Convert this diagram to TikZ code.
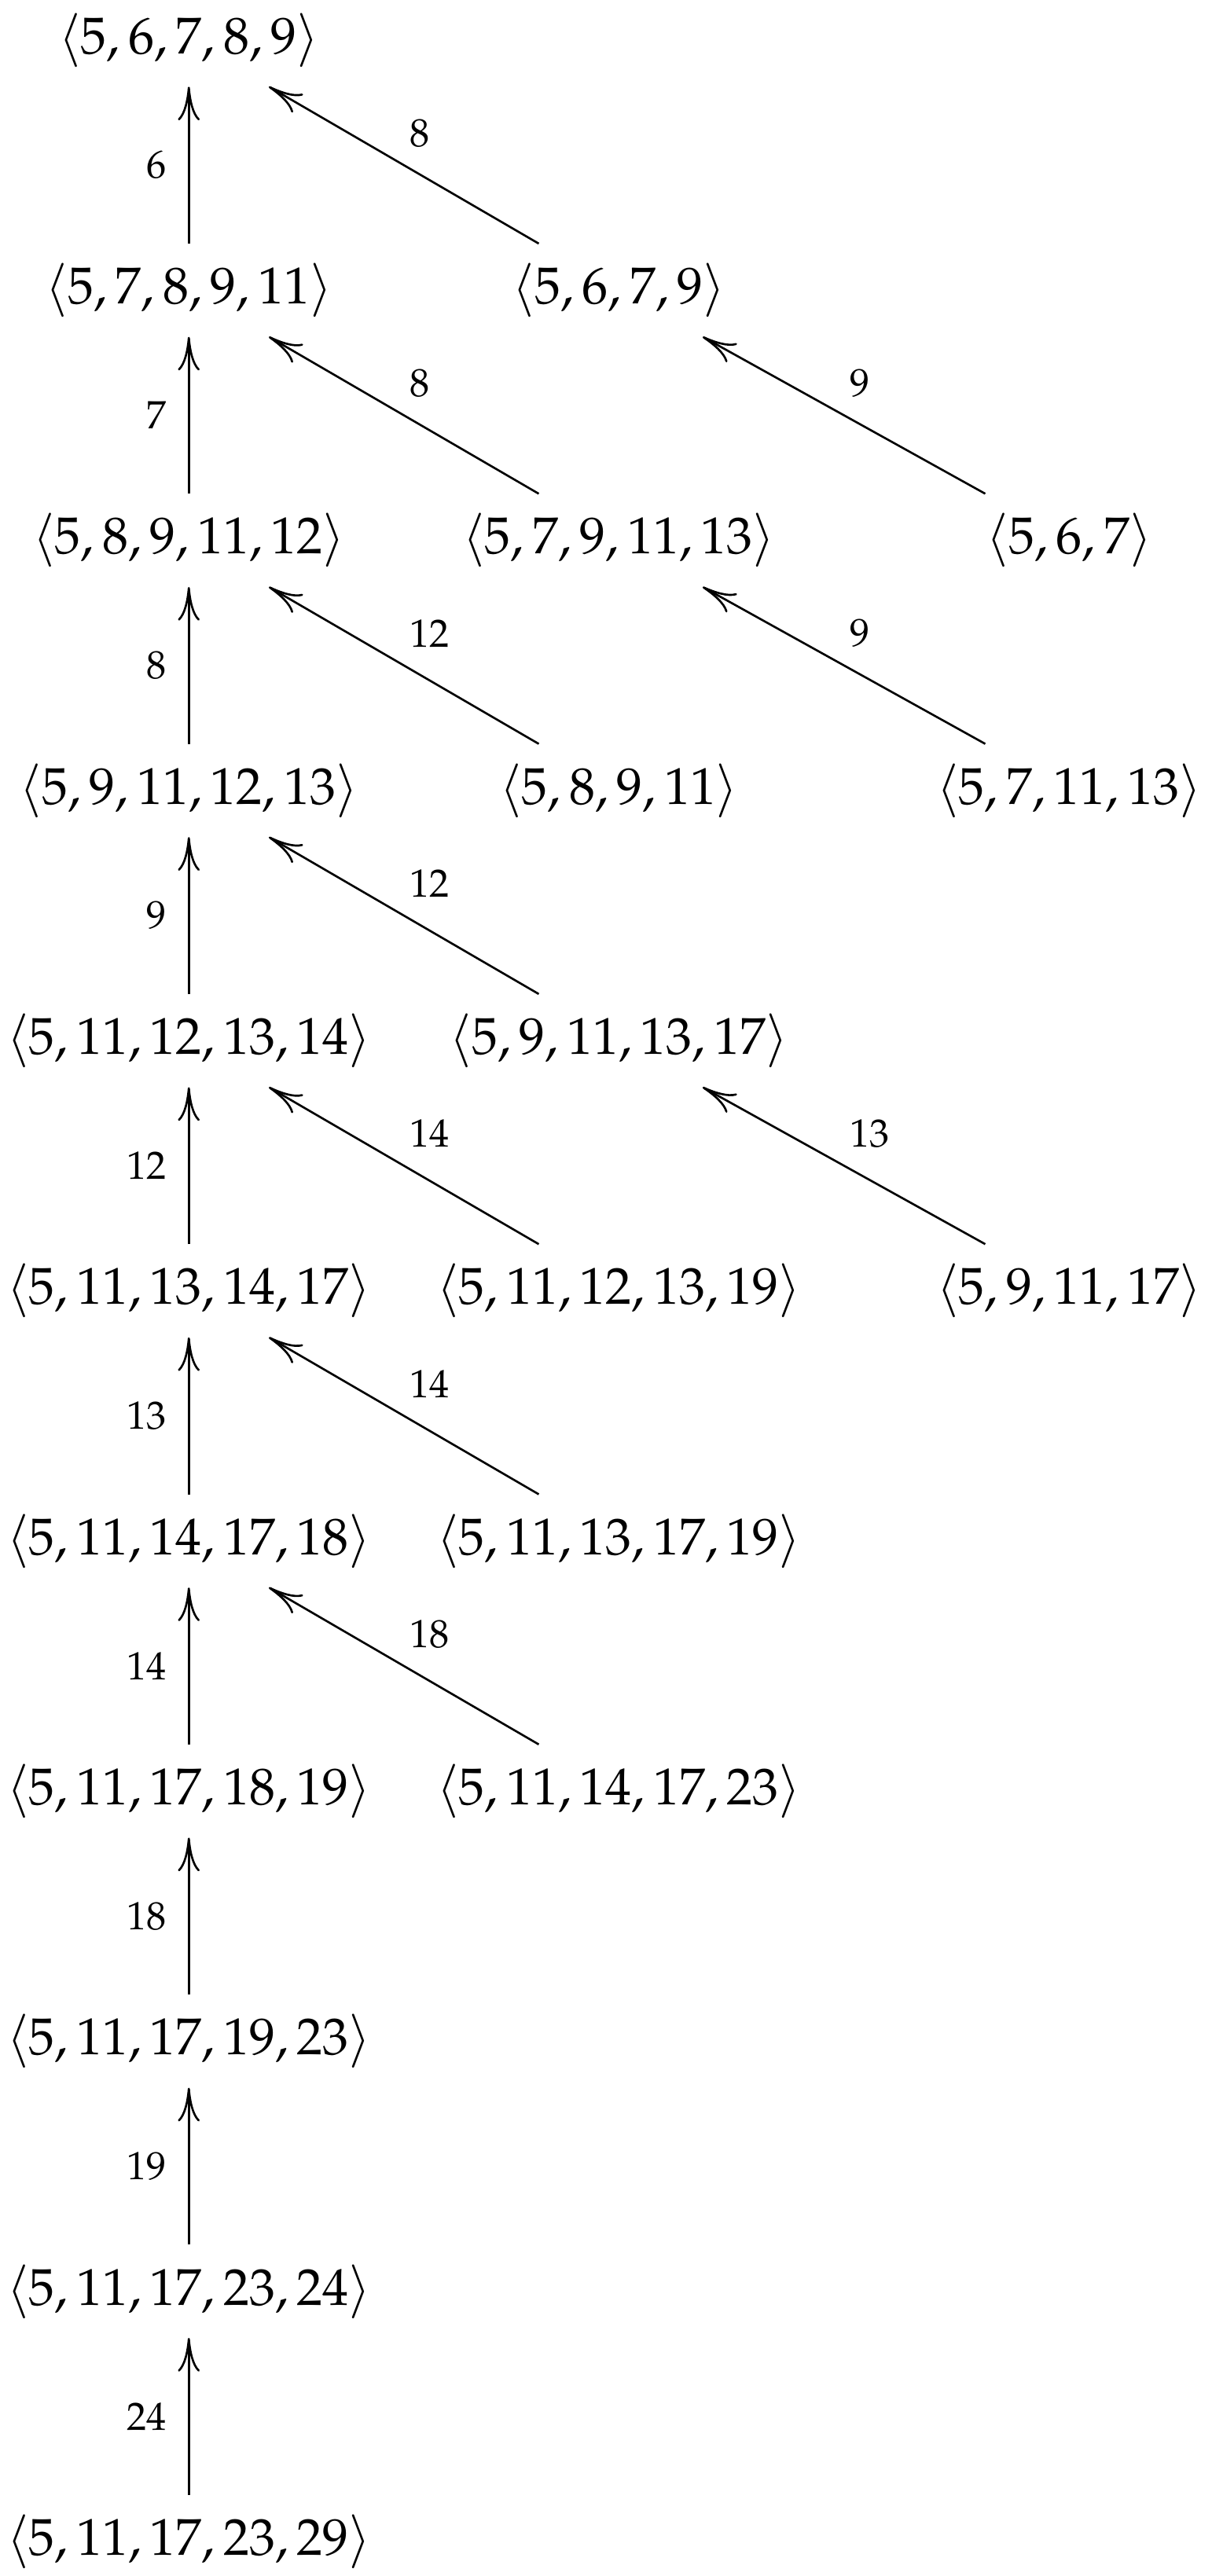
\documentclass[tikz,border=0pt]{standalone}
\usepackage{amsmath}
\usepackage{mathpazo}
\usepackage{tikz}
\usetikzlibrary{positioning,arrows.meta}
\tikzset{>={Computer Modern Rightarrow[length=6.5pt,width=4.2pt]}}
\tikzset{
	sgp/.style={inner xsep=2pt, inner ysep=3.6pt},
	vlab/.style={midway, left=3.6pt, inner sep=0.5pt},
	dlab/.style={midway, anchor=south west, inner sep=0.5pt, xshift=0.5pt, yshift=2.8pt}
}
\newcommand{\semgp}[1]{$\langle #1\rangle$}

\begin{document}
\begin{tikzpicture}[x=1pt,y=1pt]
			\useasboundingbox (0,0) rectangle (233.5,-496.7);
			% left column
			\node[sgp] (a1) at (36.4,-7.73) {\semgp{5,6,7,8,9}};
			\node[sgp] (a2) at (36.4,-55.96) {\semgp{5,7,8,9,11}};
			\node[sgp] (a3) at (36.4,-104.19) {\semgp{5,8,9,11,12}};
			\node[sgp] (a4) at (36.4,-152.42) {\semgp{5,9,11,12,13}};
			\node[sgp] (a5) at (36.4,-200.65) {\semgp{5,11,12,13,14}};
			\node[sgp] (a6) at (36.4,-248.88) {\semgp{5,11,13,14,17}};
			\node[sgp] (a7) at (36.4,-297.11) {\semgp{5,11,14,17,18}};
			\node[sgp] (a8) at (36.4,-345.34) {\semgp{5,11,17,18,19}};
			\node[sgp] (a9) at (36.4,-393.57) {\semgp{5,11,17,19,23}};
			\node[sgp] (a10) at (36.4,-441.80) {\semgp{5,11,17,23,24}};
			\node[sgp] (a11) at (36.4,-490.03) {\semgp{5,11,17,23,29}};
			% middle column
			\node[sgp] (b2) at (119.3,-55.96) {\semgp{5,6,7,9}};
			\node[sgp] (b3) at (119.3,-104.19) {\semgp{5,7,9,11,13}};
			\node[sgp] (b4) at (119.3,-152.42) {\semgp{5,8,9,11}};
			\node[sgp] (b5) at (119.3,-200.65) {\semgp{5,9,11,13,17}};
			\node[sgp] (b6) at (119.3,-248.88) {\semgp{5,11,12,13,19}};
			\node[sgp] (b7) at (119.3,-297.11) {\semgp{5,11,13,17,19}};
			\node[sgp] (b8) at (119.3,-345.34) {\semgp{5,11,14,17,23}};
			% right column
			\node[sgp] (c3) at (206.1,-104.19) {\semgp{5,6,7}};
			\node[sgp] (c4) at (206.1,-152.42) {\semgp{5,7,11,13}};
			\node[sgp] (c6) at (206.1,-248.88) {\semgp{5,9,11,17}};

			\draw[->] (a2) -- node[vlab] {$\scriptstyle 6$} (a1);
			\draw[->] (a3) -- node[vlab] {$\scriptstyle 7$} (a2);
			\draw[->] (a4) -- node[vlab] {$\scriptstyle 8$} (a3);
			\draw[->] (a5) -- node[vlab] {$\scriptstyle 9$} (a4);
			\draw[->] (a6) -- node[vlab] {$\scriptstyle 12$} (a5);
			\draw[->] (a7) -- node[vlab] {$\scriptstyle 13$} (a6);
			\draw[->] (a8) -- node[vlab] {$\scriptstyle 14$} (a7);
			\draw[->] (a9) -- node[vlab] {$\scriptstyle 18$} (a8);
			\draw[->] (a10) -- node[vlab] {$\scriptstyle 19$} (a9);
			\draw[->] (a11) -- node[vlab] {$\scriptstyle 24$} (a10);

			\draw[->] (b2) -- node[dlab] {$\scriptstyle 8$} (a1);
			\draw[->] (b3) -- node[dlab] {$\scriptstyle 8$} (a2);
			\draw[->] (c3) -- node[dlab] {$\scriptstyle 9$} (b2);
			\draw[->] (b4) -- node[dlab] {$\scriptstyle 12$} (a3);
			\draw[->] (c4) -- node[dlab] {$\scriptstyle 9$} (b3);
			\draw[->] (b5) -- node[dlab] {$\scriptstyle 12$} (a4);
			\draw[->] (b6) -- node[dlab] {$\scriptstyle 14$} (a5);
			\draw[->] (c6) -- node[dlab] {$\scriptstyle 13$} (b5);
			\draw[->] (b7) -- node[dlab] {$\scriptstyle 14$} (a6);
			\draw[->] (b8) -- node[dlab] {$\scriptstyle 18$} (a7);
\end{tikzpicture}
\end{document}
